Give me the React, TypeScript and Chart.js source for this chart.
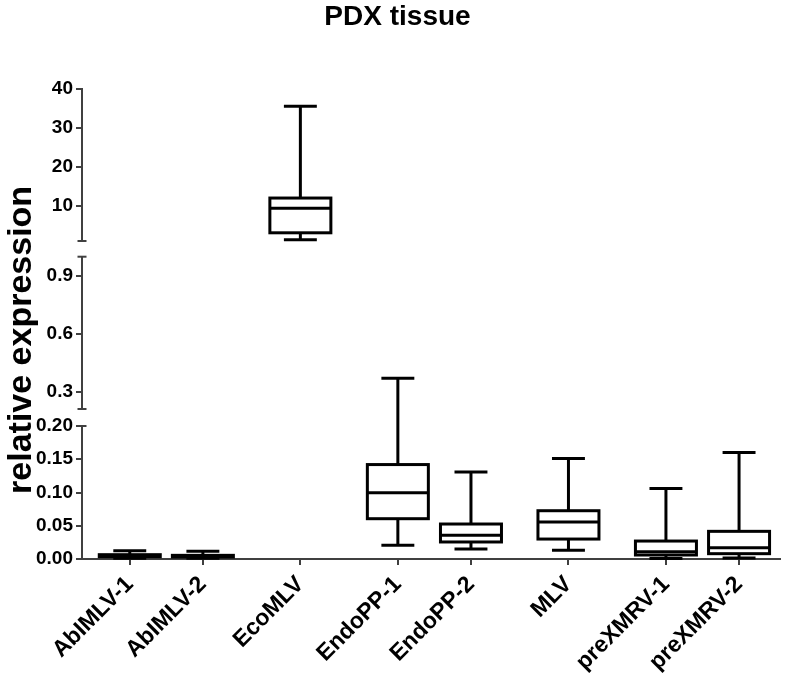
import React, { useEffect, useRef } from 'react';
import { Chart, registerables } from 'chart.js';

Chart.register(...registerables);

// ---- data ----
const categories = ['AbIMLV-1', 'AbIMLV-2', 'EcoMLV', 'EndoPP-1', 'EndoPP-2', 'MLV', 'preXMRV-1', 'preXMRV-2'];
const whiskerLow = [0.001, 0.001, 1.3, 0.0206, 0.015, 0.013, 0.0008, 0.0015];
const quartile1 = [0.0035, 0.003, 3.1, 0.0606, 0.0256, 0.03, 0.006, 0.008];
const medians = [0.005, 0.004, 9.4, 0.0997, 0.0356, 0.0556, 0.011, 0.017];
const quartile3 = [0.0065, 0.0055, 12.0, 0.142, 0.0526, 0.0726, 0.027, 0.0416];
const whiskerHigh = [0.0125, 0.0115, 35.5, 0.369, 0.131, 0.151, 0.106, 0.16];

const lowTicks = [0, 0.05, 0.1, 0.15, 0.2];
const midTicks = [0.3, 0.6, 0.9];
const highTicks = [10, 20, 30, 40];

const lowRange = [0, 0.2];
const midRange = [0.21, 1.0];
const highRange = [1, 40];

// ---- layout helpers (not data) ----
const columnSlots = [0, 0.75, 1.75, 2.75, 3.5, 4.5, 5.5, 6.25];
const FONT = "'Liberation Sans', Arial, Helvetica, sans-serif";
const AXIS_COLOR = '#404040';

const segmentScales = (chart: any) => [chart.scales.yB, chart.scales.yM, chart.scales.yT];

const valueToPixel = (chart: any, v: number) => {
  const segs = segmentScales(chart);
  for (const s of segs) {
    if (v >= s.min && v <= s.max) return s.getPixelForValue(v);
  }
  return v < segs[0].min ? segs[0].getPixelForValue(v) : segs[2].getPixelForValue(v);
};

const boxPlugin = {
  id: 'boxWhiskers',
  afterDatasetsDraw(chart: any) {
    const ctx = chart.ctx;
    ctx.save();
    ctx.strokeStyle = '#000';
    ctx.lineWidth = 3;
    ctx.lineCap = 'butt';
    const line = (x1: number, y1: number, x2: number, y2: number) => {
      ctx.beginPath();
      ctx.moveTo(x1, y1);
      ctx.lineTo(x2, y2);
      ctx.stroke();
    };
    chart.data.datasets.forEach((ds: any, di: number) => {
      const meta = chart.getDatasetMeta(di);
      meta.data.forEach((el: any, j: number) => {
        const i = ds.data[j].idx;
        const { x, y, base, width } = el.getProps(['x', 'y', 'base', 'width'], true);
        const top = Math.min(y, base);
        const h = Math.abs(base - y);
        ctx.strokeRect(x - width / 2, top, width, h);
        const pm = valueToPixel(chart, medians[i]);
        line(x - width / 2, pm, x + width / 2, pm);
        const capHalf = width * 0.27;
        const pHi = valueToPixel(chart, whiskerHigh[i]);
        const pLo = valueToPixel(chart, whiskerLow[i]);
        line(x, top, x, pHi);
        line(x - capHalf, pHi, x + capHalf, pHi);
        line(x, top + h, x, pLo);
        line(x - capHalf, pLo, x + capHalf, pLo);
      });
    });
    ctx.restore();
  },
  afterDraw(chart: any) {
    const ctx = chart.ctx;
    const { yB, yM, yT } = chart.scales;
    const ax = yB.right;
    ctx.save();
    ctx.strokeStyle = AXIS_COLOR;
    ctx.lineWidth = 2;
    [yT.bottom, yM.top, yM.bottom, yB.top].forEach((py: number) => {
      ctx.beginPath();
      ctx.moveTo(ax - 4.5, py);
      ctx.lineTo(ax + 4.5, py);
      ctx.stroke();
    });
    ctx.restore();
  },
};

const buildBoxData = (range: number[]) =>
  categories
    .map((_, i) => ({ x: columnSlots[i], y: [quartile1[i], quartile3[i]], idx: i }))
    .filter((d) => quartile3[d.idx] <= range[1] && quartile1[d.idx] >= range[0]);

const segmentAxis = (range: number[], ticks: number[], digits: number, weight: number, stackWeight: number) => ({
  type: 'linear',
  position: 'left',
  stack: 'v',
  stackWeight,
  weight,
  min: range[0],
  max: range[1],
  beginAtZero: false,
  afterBuildTicks: (scale: any) => {
    scale.ticks = ticks.map((v) => ({ value: v }));
  },
  afterFit: (scale: any) => {
    scale.width = 47;
  },
  grid: { display: true, drawOnChartArea: false, drawTicks: true, tickLength: 6, color: AXIS_COLOR, lineWidth: 2 },
  border: { display: true, color: AXIS_COLOR, width: 2 },
  ticks: {
    color: '#000',
    padding: 3,
    autoSkip: false,
    font: { family: FONT, size: 19, weight: 'bold' },
    callback: (v: number) => Number(v).toFixed(digits),
  },
});

const gapAxis = (weight: number, stackWeight: number) => ({
  type: 'linear',
  position: 'left',
  stack: 'v',
  stackWeight,
  weight,
  afterFit: (scale: any) => {
    scale.width = 0;
  },
  grid: { display: false, drawOnChartArea: false, drawTicks: false },
  border: { display: false },
  ticks: { display: false },
});

export default function App() {
  const ref = useRef<HTMLCanvasElement | null>(null);

  useEffect(() => {
    document.body.style.margin = '0';
    if (!ref.current) return;
    const chart = new Chart(ref.current, {
      type: 'bar',
      data: {
        datasets: [
          {
            label: 'low',
            data: buildBoxData(lowRange) as any,
            xAxisID: 'x',
            yAxisID: 'yB',
            backgroundColor: '#fff',
            borderWidth: 0,
            grouped: false,
            barThickness: 61,
            maxBarThickness: 61,
          },
          {
            label: 'high',
            data: buildBoxData(highRange) as any,
            xAxisID: 'x',
            yAxisID: 'yT',
            backgroundColor: '#fff',
            borderWidth: 0,
            grouped: false,
            barThickness: 61,
            maxBarThickness: 61,
          },
        ],
      },
      options: {
        responsive: false,
        animation: false,
        devicePixelRatio: 1,
        layout: { padding: { top: 0, left: 15, right: 15, bottom: 0 } },
        plugins: {
          legend: { display: false },
          tooltip: { enabled: false },
          title: {
            display: true,
            text: 'PDX tissue',
            color: '#000',
            font: { family: FONT, size: 28, weight: 'bold' },
            padding: { top: 0, bottom: 55.1 },
          },
        },
        scales: {
          x: {
            type: 'linear',
            position: 'bottom',
            min: -0.49,
            max: 6.67,
            offset: false,
            afterBuildTicks: (scale: any) => {
              scale.ticks = columnSlots.map((v) => ({ value: v }));
            },
            afterFit: (scale: any) => {
              scale.height = 121;
            },
            grid: { display: true, offset: false, drawOnChartArea: false, drawTicks: true, tickLength: 6, color: AXIS_COLOR, lineWidth: 2 },
            border: { display: true, color: AXIS_COLOR, width: 2 },
            ticks: {
              color: '#000',
              autoSkip: false,
              minRotation: 45,
              maxRotation: 45,
              padding: 6,
              font: { family: FONT, size: 23, weight: 'bold' },
              callback: (_v: any, i: number) => categories[i],
            },
          },
          yB: segmentAxis(lowRange, lowTicks, 2, 1, 133),
          gA: gapAxis(2, 17),
          yM: segmentAxis(midRange, midTicks, 1, 3, 152.3),
          gB: gapAxis(4, 15.7),
          yT: segmentAxis(highRange, highTicks, 0, 5, 152.3),
          yTitle: {
            type: 'linear',
            position: 'left',
            stack: 't',
            stackWeight: 438.2,
            weight: 9,
            afterFit: (scale: any) => {
              scale.width = 20;
            },
            grid: { display: false, drawOnChartArea: false, drawTicks: false },
            border: { display: false },
            ticks: { display: false },
            title: {
              display: true,
              text: 'relative expression',
              color: '#000',
              padding: { top: -13.4, bottom: 0 },
              font: { family: FONT, size: 34, weight: 'bold' },
            },
          },
          ySpacer: {
            type: 'linear',
            position: 'left',
            stack: 't',
            stackWeight: 32.1,
            weight: 10,
            afterFit: (scale: any) => {
              scale.width = 20;
            },
            grid: { display: false, drawOnChartArea: false, drawTicks: false },
            border: { display: false },
            ticks: { display: false },
          },
        } as any,
      },
      plugins: [boxPlugin],
    } as any);
    return () => chart.destroy();
  }, []);

  return (
    <div style={{ width: 795, height: 680 }}>
      <canvas ref={ref} width={795} height={680} />
    </div>
  );
}
